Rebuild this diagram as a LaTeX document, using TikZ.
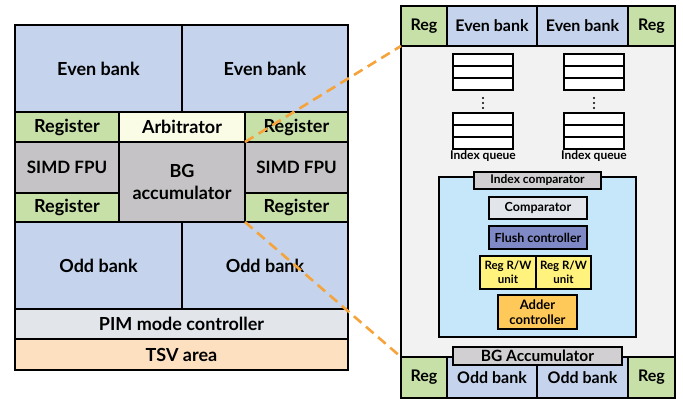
\documentclass[tikz,border=0pt]{standalone}
\usepackage{fontspec}
\setmainfont{Lato}
\usetikzlibrary{positioning}

\definecolor{bankblue}{HTML}{C5D4EC}
\definecolor{reggreen}{HTML}{C6E0A8}
\definecolor{arbyellow}{HTML}{FBFCE6}
\definecolor{unitgray}{HTML}{C5C3C5}
\definecolor{ctrlgray}{HTML}{E2E6EA}
\definecolor{tsvorange}{HTML}{FDE0C0}
\definecolor{bodygray}{HTML}{F2F2F2}
\definecolor{cmpblue}{HTML}{C6E7F9}
\definecolor{flushblue}{HTML}{7F89C5}
\definecolor{rwyellow}{HTML}{FFF27D}
\definecolor{adderorange}{HTML}{FFC95A}
\definecolor{zoomline}{HTML}{F5A33A}

\tikzset{
    blk/.style={draw, line width=2.4pt, inner sep=0pt, outer sep=0pt, align=center,
        font=\bfseries\fontsize{18}{22}\selectfont},
    smallblk/.style={blk, font=\bfseries\fontsize{16}{18}\selectfont},
    subblk/.style={blk, line width=1.8pt, font=\bfseries\fontsize{12.5}{14}\selectfont},
    qrow/.style={draw, line width=1.1pt, fill=white, minimum width=60pt, minimum height=12pt,
        inner sep=0pt, outer sep=0pt},
    zoomdash/.style={draw=zoomline, line width=2.6pt, dash pattern=on 10pt off 6pt}
}

\begin{document}
\begin{tikzpicture}[x=1pt, y=-1pt]
    \useasboundingbox (0,0) rectangle (683,399);

    %bank group, left side
    \node[blk, fill=bankblue, minimum width=167, minimum height=87] (eb1) at (98.5,68.5) {Even bank};
    \node[blk, fill=bankblue, minimum width=166, minimum height=87] (eb2) at (265,68.5) {Even bank};

    \node[blk, fill=reggreen, minimum width=104, minimum height=30] (reg1) at (67,127) {Register};
    \node[blk, fill=arbyellow, minimum width=126, minimum height=30] (arb) at (182,127) {Arbitrator};
    \node[blk, fill=reggreen, minimum width=103, minimum height=30] (reg2) at (296.5,127) {Register};

    \node[blk, fill=unitgray, minimum width=104, minimum height=51, font=\bfseries\fontsize{17}{18}\selectfont] (fpu1) at (67,167.5) {SIMD FPU};
    \node[blk, fill=unitgray, minimum width=126, minimum height=80] (bga) at (182,182) {BG\\accumulator};
    \node[blk, fill=unitgray, minimum width=103, minimum height=51, font=\bfseries\fontsize{17}{18}\selectfont] (fpu2) at (296.5,167.5) {SIMD FPU};

    \node[blk, fill=reggreen, minimum width=104, minimum height=29] (reg3) at (67,207.5) {Register};
    \node[blk, fill=reggreen, minimum width=103, minimum height=29] (reg4) at (296.5,207.5) {Register};

    \node[blk, fill=bankblue, minimum width=167, minimum height=87] (ob1) at (98.5,265.5) {Odd bank};
    \node[blk, fill=bankblue, minimum width=166, minimum height=87] (ob2) at (265,265.5) {Odd bank};

    \node[blk, fill=ctrlgray, minimum width=333, minimum height=30] (pim) at (181.5,324) {PIM mode controller};
    \node[blk, fill=tsvorange, minimum width=333, minimum height=31] (tsv) at (181.5,354.5) {TSV area};

    %zoomed accumulator, right side
    \node[blk, fill=bodygray, minimum width=274, minimum height=392] (body) at (538,202) {};

    \node[smallblk, fill=reggreen, minimum width=46, minimum height=40] (rega) at (424,26) {Reg};
    \node[smallblk, fill=bankblue, minimum width=90, minimum height=40] (eva) at (492,26) {Even bank};
    \node[smallblk, fill=bankblue, minimum width=91, minimum height=40] (evb) at (582.5,26) {Even bank};
    \node[smallblk, fill=reggreen, minimum width=47, minimum height=40] (regb) at (651.5,26) {Reg};

    \node[smallblk, fill=reggreen, minimum width=46, minimum height=41] (regc) at (424,377.5) {Reg};
    \node[smallblk, fill=bankblue, minimum width=90, minimum height=41] (oda) at (492,377.5) {Odd bank};
    \node[smallblk, fill=bankblue, minimum width=91, minimum height=41] (odb) at (582.5,377.5) {Odd bank};
    \node[smallblk, fill=reggreen, minimum width=47, minimum height=41] (regd) at (651.5,377.5) {Reg};

    %index queues
    \foreach \qx/\qn in {483/ql, 594/qr} {
        \foreach \r in {0,1,2} {
            \node[qrow] (\qn top\r) at (\qx,60+12*\r) {};
            \node[qrow] (\qn bot\r) at (\qx,119+12*\r) {};
        }
        \foreach \d in {98,103,108}
            \fill (\qx,\d) circle (1.2pt);
        \node[font=\bfseries\fontsize{12}{13}\selectfont, below=0pt of \qn bot2, inner sep=1pt] (\qn lbl) {Index queue};
    }

    %index comparator
    \node[subblk, fill=cmpblue, minimum width=197, minimum height=160] (icmp) at (537.5,257) {};
    \node[subblk, fill=unitgray!80!white, minimum width=127, minimum height=17, font=\bfseries\fontsize{12}{13}\selectfont] (icmplbl) at (537.5,180.5) {Index comparator};
    \node[subblk, fill=ctrlgray, minimum width=98, minimum height=22] (comp) at (538,208) {Comparator};
    \node[subblk, fill=flushblue, minimum width=98, minimum height=23] (flush) at (538,237.5) {Flush controller};
    \node[subblk, fill=rwyellow, minimum width=56, minimum height=33, font=\bfseries\fontsize{11.5}{13.5}\selectfont] (rw1) at (508,272.5) {Reg R/W\\unit};
    \node[subblk, fill=rwyellow, minimum width=55, minimum height=33, font=\bfseries\fontsize{11.5}{13.5}\selectfont] (rw2) at (563.5,272.5) {Reg R/W\\unit};
    \node[subblk, fill=adderorange, minimum width=79, minimum height=34, font=\bfseries\fontsize{13}{15}\selectfont] (adder) at (537.5,312) {Adder\\controller};

    \node[subblk, fill=unitgray!80!white, minimum width=169, minimum height=18, font=\bfseries\fontsize{15.5}{16}\selectfont] (bgacc) at (537.5,356) {BG Accumulator};

    %zoom lines
    \draw[zoomdash] (bga.north east) -- (rega.south west);
    \draw[zoomdash] (bga.south east) -- (regc.north west);

\end{tikzpicture}
\end{document}
